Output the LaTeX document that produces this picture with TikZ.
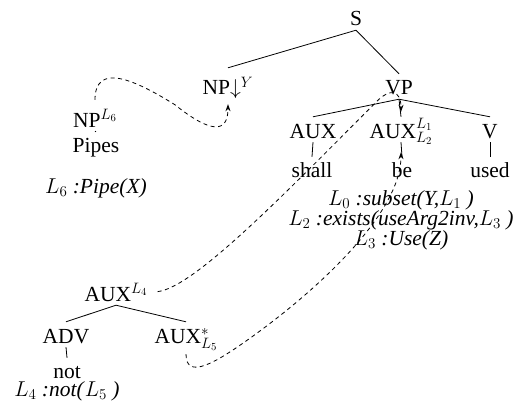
\documentclass[tikz,border=0pt]{standalone}
\usepackage{fix-cm}
\usepackage[no-math]{fontspec}
\setmainfont{Liberation Serif}
\usepackage{tikz}
\usetikzlibrary{arrows.meta, calc}

\newcommand{\treefont}{\fontsize{21.5}{20}\selectfont}

\begin{document}
\begin{tikzpicture}[x=1pt, y=-1pt,
        cat/.style={font=\treefont, anchor=base, inner xsep=2pt, inner ysep=4pt, text height=17pt, text depth=0pt},
        word/.style={font=\treefont, anchor=base, inner xsep=2pt, inner ysep=4pt, text height=16pt, text depth=0pt},
        sem/.style={font=\treefont, anchor=base, inner sep=0pt, align=center},
        branch/.style={line width=0.8pt},
        link/.style={line width=0.8pt, dash pattern=on 4pt off 3.5pt, -{Stealth[length=7pt, width=5pt]}}
    ]
    \useasboundingbox (0,0) rectangle (513,409);

    % line of the page above, cut by the frame
    \begin{scope}
        \clip (0,0) rectangle (513,409);
        \node[font=\treefont, anchor=base east, inner sep=0pt] (prose) at (340,-6)
            {``shall\hspace{16pt}be\hspace{16pt}used''\hspace{16pt}at\hspace{16pt}the\hspace{16pt}ROOT\hspace{16pt}node.};
    \end{scope}

    % Main tree
    \node[cat] (s) at (356,26) {S};
    \node[cat, text height=23pt] (npsub) at (228,95) {NP$\downarrow^{Y}$};
    \node[cat] (vp) at (399,95) {VP};
    \node[cat] (auxa) at (313,138) {AUX};
    \node[cat] (auxb) at (401,138) {AUX$^{L_1}_{L_2}$};
    \node[cat] (v) at (490,138) {V};
    \node[word] (shall) at (312,177) {shall};
    \node[word] (be) at (402,177) {be};
    \node[word] (used) at (490,177) {used};
    \node[sem] (semb) at (401,245) {$L_0$ \textit{:subset(Y,}$L_1$\textit{ )}\\
        $L_2$ \textit{:exists(useArg2inv,}$L_3$\textit{ )}\\
        $L_3$ \textit{:Use(Z)}};

    % Substitution tree
    \node[cat, text height=23pt] (np6) at (95,127) {NP$^{L_6}$};
    \node[word] (pipes) at (96,152) {Pipes};
    \node[sem] (sem6) at (96,193) {$L_6$ \textit{:Pipe(X)}};

    % Auxiliary tree
    \node[cat] (aux4) at (116,301) {AUX$^{L_4}$};
    \node[cat] (adv) at (66,343) {ADV};
    \node[cat] (auxfoot) at (186,343) {AUX$^{*}_{L_5}$};
    \node[word] (not) at (67,378) {not};
    \node[sem] (sem4) at (67,396) {$L_4$ \textit{:not(}$L_5$\textit{ )}};

    % Draws - branches
    \draw[branch] (s.south) -- (npsub.north);
    \draw[branch] (s.south) -- (vp.north);
    \draw[branch] (vp.south) -- (auxa.north);
    \draw[branch] (vp.south) -- (auxb.north);
    \draw[branch] (vp.south) -- (v.north);
    \draw[branch] (auxa.south) -- (shall.north);
    \draw[branch] (auxb.south) -- (be.north);
    \draw[branch] (v.south) -- (used.north);
    \draw[branch] (np6.south) -- (pipes.north);
    \draw[branch] (aux4.south) -- (adv.north);
    \draw[branch] (aux4.south) -- (auxfoot.north);
    \draw[branch] (adv.south) -- (not.north);

    % Draws - links
    \draw[link, shorten <=8pt, shorten >=5pt] (aux4.east) .. controls +(45,-5) and +(-90,90) .. ++(228,-192)
        .. controls +(12,-12) and +(0,-27) .. (auxb.north);
    \draw[link, shorten <=7pt, shorten >=10pt] (auxfoot.south) .. controls +(0,33) and +(-35,25) .. ++(64,-9)
        .. controls +(70,-50) and +(0,70) .. (auxb.south);
    \draw[link, shorten >=5pt] (np6.north) .. controls +(0,-38) and +(-40,-25) .. ++(80,5)
        .. controls +(35,28) and +(0,35) .. (npsub.south);
\end{tikzpicture}
\end{document}
